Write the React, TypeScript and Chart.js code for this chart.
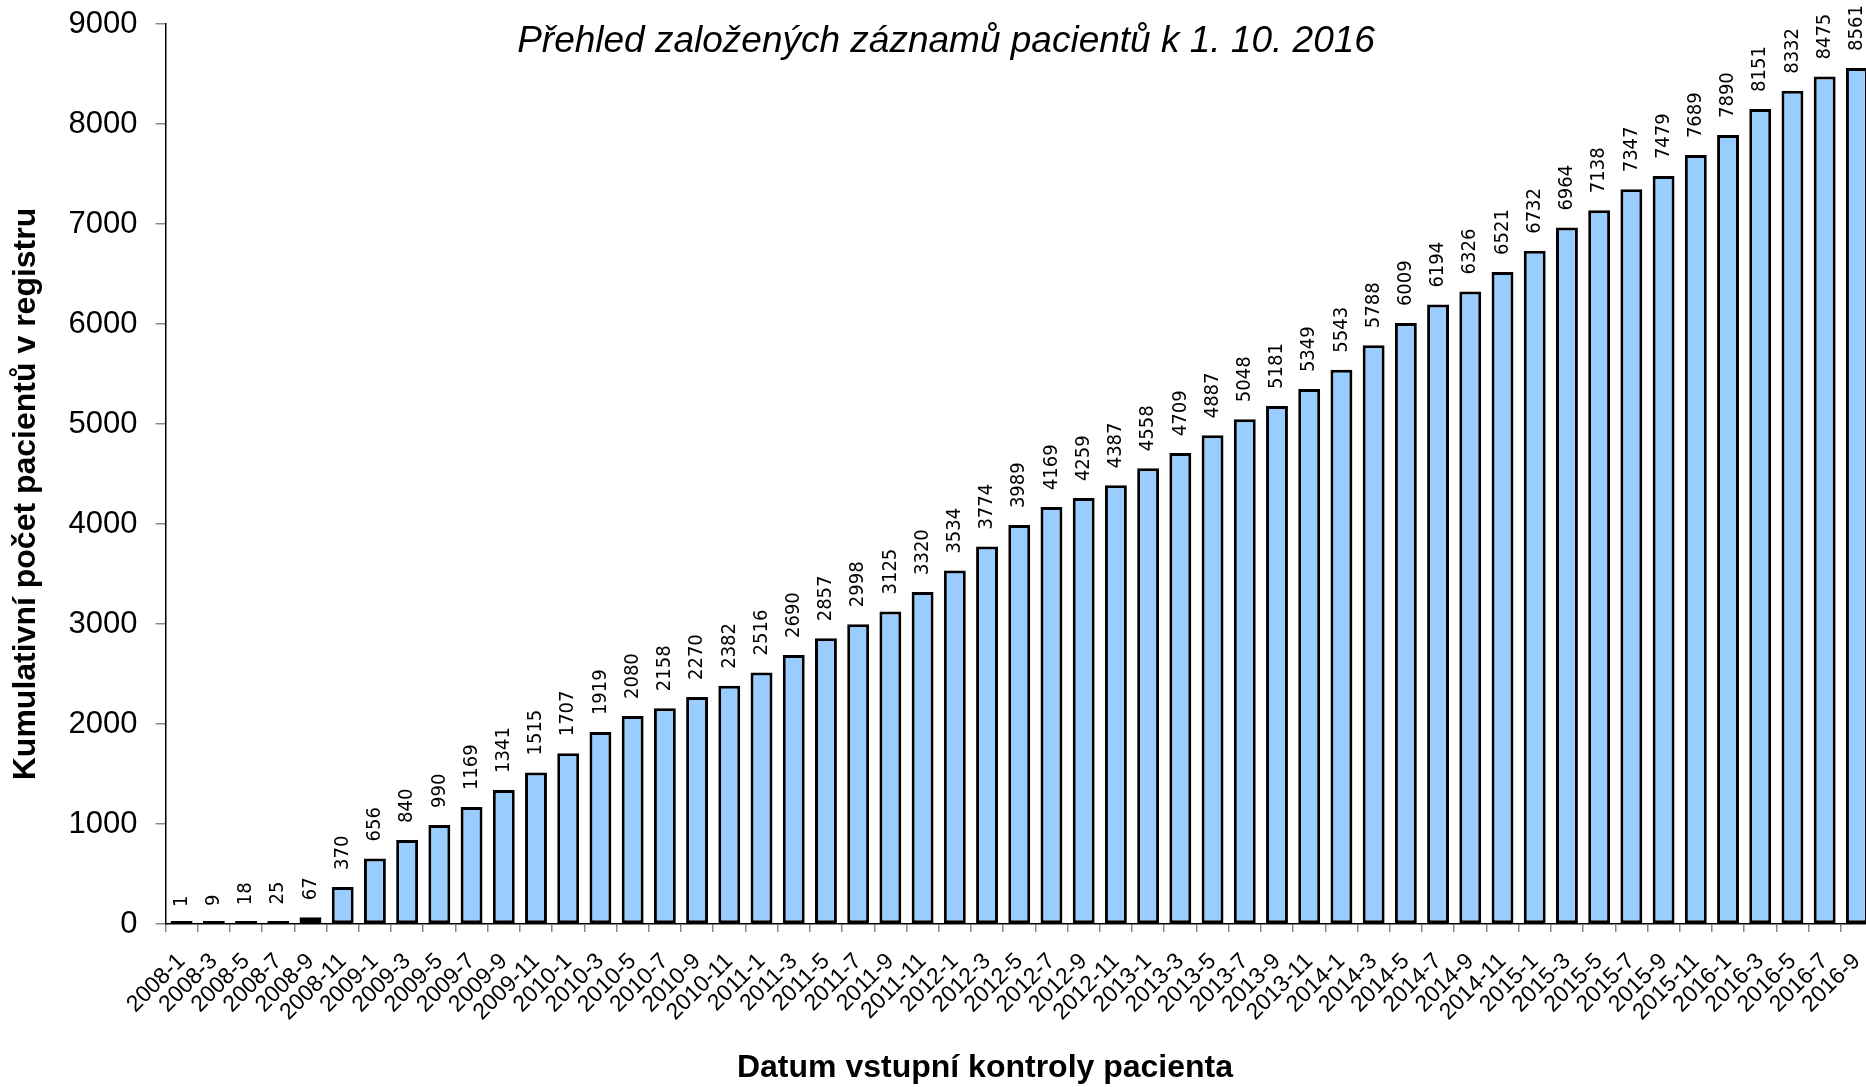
import React, { useEffect, useRef } from "react";
import { Chart, registerables } from "chart.js";

Chart.register(...registerables);

const categories: string[] = [
  "2008-1", "2008-3", "2008-5", "2008-7", "2008-9", "2008-11",
  "2009-1", "2009-3", "2009-5", "2009-7", "2009-9", "2009-11",
  "2010-1", "2010-3", "2010-5", "2010-7", "2010-9", "2010-11",
  "2011-1", "2011-3", "2011-5", "2011-7", "2011-9", "2011-11",
  "2012-1", "2012-3", "2012-5", "2012-7", "2012-9", "2012-11",
  "2013-1", "2013-3", "2013-5", "2013-7", "2013-9", "2013-11",
  "2014-1", "2014-3", "2014-5", "2014-7", "2014-9", "2014-11",
  "2015-1", "2015-3", "2015-5", "2015-7", "2015-9", "2015-11",
  "2016-1", "2016-3", "2016-5", "2016-7", "2016-9",
];

const patientCounts: number[] = [
  1, 9, 18, 25, 67, 370,
  656, 840, 990, 1169, 1341, 1515,
  1707, 1919, 2080, 2158, 2270, 2382,
  2516, 2690, 2857, 2998, 3125, 3320,
  3534, 3774, 3989, 4169, 4259, 4387,
  4558, 4709, 4887, 5048, 5181, 5349,
  5543, 5788, 6009, 6194, 6326, 6521,
  6732, 6964, 7138, 7347, 7479, 7689,
  7890, 8151, 8332, 8475, 8561,
];

const yTicks: number[] = [0, 1000, 2000, 3000, 4000, 5000, 6000, 7000, 8000, 9000];

const chartTitle = "Přehled založených záznamů pacientů k 1. 10. 2016";
const xTitle = "Datum vstupní kontroly pacienta";
const yTitle = "Kumulativní počet pacientů v registru";

const W = 1873;
const H = 1087;

export default function App() {
  const ref = useRef<HTMLCanvasElement | null>(null);

  useEffect(() => {
    if (!ref.current) return;

    const labelsPlugin = {
      id: "valueLabels",
      afterDatasetsDraw(chart: any) {
        const ctx = chart.ctx;
        const meta = chart.getDatasetMeta(0);
        const ys = chart.scales.y;
        ctx.save();
        ctx.font = '20px "DejaVu Sans Condensed", "DejaVu Sans"';
        ctx.fillStyle = "#000";
        ctx.textAlign = "left";
        ctx.textBaseline = "middle";
        meta.data.forEach((el: any, i: number) => {
          const v = patientCounts[i];
          const y = ys.getPixelForValue(v) - 17;
          ctx.save();
          ctx.translate(el.x, y);
          ctx.rotate(-Math.PI / 2);
          ctx.fillText(String(v), 0, 0);
          ctx.restore();
        });
        ctx.restore();
      },
      afterDraw(chart: any) {
        const ctx = chart.ctx;
        ctx.save();
        ctx.fillStyle = "#000";
        ctx.textAlign = "center";
        ctx.textBaseline = "middle";
        ctx.font = 'italic 37px "Liberation Sans", Arial';
        ctx.fillText(chartTitle, 946, 42);
        ctx.font = 'bold 32px "Liberation Sans", Arial';
        ctx.fillText(xTitle, 985, 1068);
        ctx.save();
        ctx.translate(26, 494);
        ctx.rotate(-Math.PI / 2);
        ctx.fillText(yTitle, 0, 0);
        ctx.restore();
        ctx.restore();
      },
    };

    const chart = new Chart(ref.current, {
      type: "bar",
      data: {
        labels: categories,
        datasets: [
          {
            data: patientCounts,
            backgroundColor: "#99CCFF",
            borderColor: "#000000",
            borderWidth: 3,
            borderSkipped: false,
            barPercentage: 0.68,
            categoryPercentage: 1.0,
            minBarLength: 3,
          },
        ],
      },
      options: {
        responsive: false,
        animation: false,
        layout: { padding: { top: 24, right: 0, left: 0, bottom: 0 } },
        plugins: {
          legend: { display: false },
          title: { display: false },
          tooltip: { enabled: false },
        },
        scales: {
          x: {
            type: "category",
            offset: true,
            grid: {
              offset: true,
              drawOnChartArea: false,
              drawTicks: true,
              tickLength: 8,
              color: "#888888",
              lineWidth: 1.5,
            },
            border: { color: "#000000", width: 1.5 },
            ticks: {
              autoSkip: false,
              minRotation: 45,
              maxRotation: 45,
              padding: 16,
              color: "#000000",
              font: { family: '"Liberation Sans", Arial', size: 23 },
            },
            afterFit(scale: any) {
              scale.height = 163;
              scale.paddingLeft = 0;
              scale.paddingRight = 0;
            },
          },
          y: {
            min: 0,
            max: 9000,
            afterBuildTicks(scale: any) {
              scale.ticks = yTicks.map((v) => ({ value: v }));
            },
            grid: {
              drawOnChartArea: false,
              drawTicks: true,
              tickLength: 10,
              color: "#888888",
              lineWidth: 1.5,
            },
            border: { color: "#000000", width: 1.5 },
            ticks: {
              padding: 18,
              color: "#000000",
              font: { family: '"Liberation Sans", Arial', size: 31 },
              callback: (v: any) => String(v),
            },
            title: { display: false },
            afterFit(scale: any) {
              scale.width = 165.5;
              scale.paddingTop = 0;
              scale.paddingBottom = 0;
            },
          },
        },
      },
      plugins: [labelsPlugin],
    });

    return () => chart.destroy();
  }, []);

  return (
    <div
      style={{
        position: "absolute",
        left: 0,
        top: 0,
        width: 1866,
        height: 1087,
        overflow: "hidden",
        background: "#fff",
      }}
    >
      <canvas ref={ref} width={W} height={H} style={{ width: W, height: H, display: "block" }} />
    </div>
  );
}
